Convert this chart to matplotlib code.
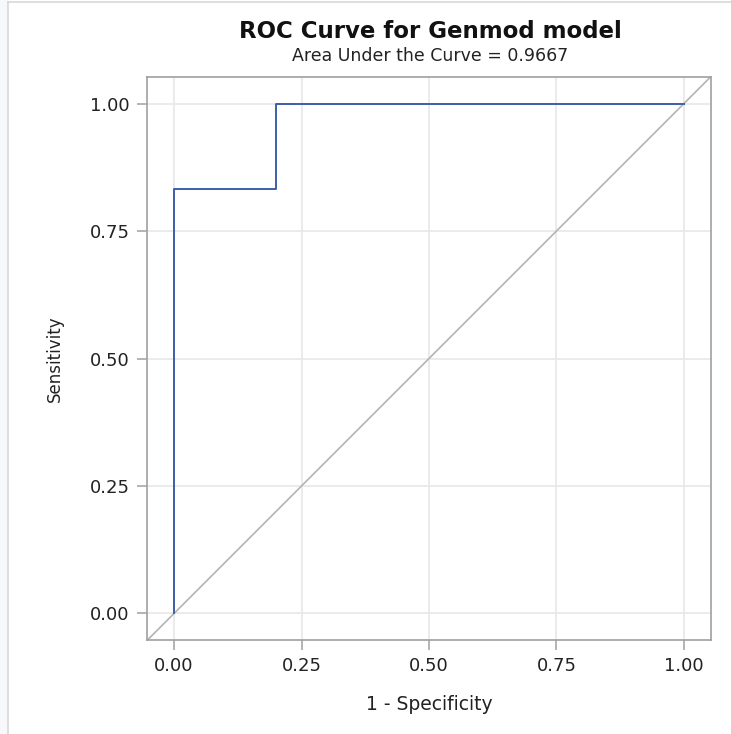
import matplotlib.pyplot as plt
from matplotlib.lines import Line2D

# ROC curve points (1 - specificity, sensitivity)
fpr = [0.0, 0.0, 0.2, 0.2, 1.0]
tpr = [0.0, 0.8333, 0.8333, 1.0, 1.0]
auc = 0.9667
ticks = [0.0, 0.25, 0.5, 0.75, 1.0]
tick_labels = ['0.00', '0.25', '0.50', '0.75', '1.00']

fig = plt.figure(figsize=(7.31, 7.34), dpi=100)
fig.patch.set_facecolor('white')

# outer frame like the viewer panel
fig.patches.append(plt.Rectangle((0, 0), 8 / 731, 1, transform=fig.transFigure,
                                 facecolor='#f7f8fc', edgecolor='none', zorder=0))
fig.lines.append(Line2D([8 / 731, 8 / 731], [0, 1 - 2 / 734], transform=fig.transFigure,
                        color='#d8d8d8', lw=1.2))
fig.lines.append(Line2D([8 / 731, 1], [1 - 2 / 734, 1 - 2 / 734], transform=fig.transFigure,
                        color='#d8d8d8', lw=1.2))

ax = fig.add_axes([147 / 731, 1 - 640 / 734, 564 / 731, 563 / 734])
ax.set_xlim(-0.053, 1.053)
ax.set_ylim(-0.052, 1.052)

ax.grid(True, color='#e8e8ea', lw=1.2)
ax.set_axisbelow(True)
ax.axline((0, 0), slope=1, color='#b4b4b4', lw=1.2, zorder=2)
ax.plot(fpr, tpr, color='#3f5ea8', lw=1.4, zorder=3)

ax.set_xticks(ticks)
ax.set_xticklabels(tick_labels)
ax.set_yticks(ticks)
ax.set_yticklabels(tick_labels)
ax.tick_params(colors='#a8a8a8', labelcolor='#222222', labelsize=13, length=7.5, width=1.2, pad=5)
for s in ax.spines.values():
    s.set_color('#a0a0a0')
    s.set_linewidth(1.2)

ax.set_xlabel('1 - Specificity', fontsize=13.5, color='#222222', va='center')
ax.xaxis.set_label_coords(0.5, (640 - 705) / 563)
ax.set_ylabel('Sensitivity', fontsize=12, color='#222222', va='center')
ax.yaxis.set_label_coords((55 - 147) / 564, 0.5)

fig.text(430 / 731, 1 - 32 / 734, 'ROC Curve for Genmod model', ha='center', va='center',
         fontsize=16.5, fontweight='bold', color='#111111')
fig.text(430 / 731, 1 - 56 / 734, f'Area Under the Curve = {auc:.4f}', ha='center', va='center',
         fontsize=12.5, color='#222222')

fig.savefig('out.png', dpi=100)
